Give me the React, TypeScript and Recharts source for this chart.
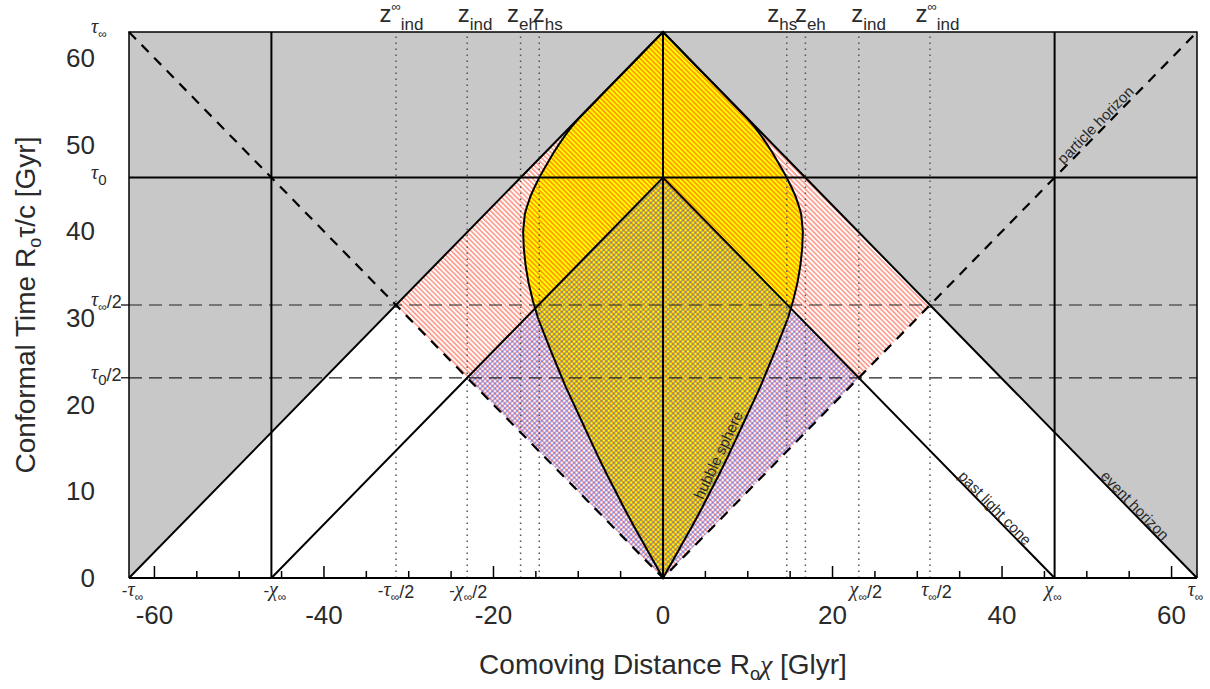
import React from 'react';
import { ComposedChart, Scatter, XAxis, YAxis } from 'recharts';

// landmarks of the conformal diagram (Gyr / Glyr)
const TAU_INF = 63;
const TAU_0 = 46.2;
const CHI_INF = 46.2;
const CHI_HS = 14.6;
const CHI_EH = TAU_INF - TAU_0;

// hubble sphere (conformal time -> comoving radius)
const hubbleTau = [0, 2, 4, 6, 8, 10, 12, 14, 16, 18, 20, 22, 24, 26, 28, 30, 32, 34, 36, 38, 40, 42, 43, 44, 45, 46.2, 47, 48, 49, 50, 51, 52, 53, 54, 56, 58, 60, 62, 63];
const hubbleChi = [0, 1.15, 2.3, 3.45, 4.55, 5.6, 6.65, 7.65, 8.6, 9.55, 10.5, 11.45, 12.3, 13.15, 13.95, 14.75, 15.35, 15.85, 16.2, 16.42, 16.5, 16.3, 16.0, 15.65, 15.2, 14.6, 14.15, 13.55, 12.95, 12.3, 11.6, 10.85, 9.95, 8.98, 6.98, 4.98, 2.99, 1.0, 0];

const xNumberTicks = [-60, -40, -20, 0, 20, 40, 60];
const xMinorTicks = [-55, -50, -45, -35, -30, -25, -15, -10, -5, 5, 10, 15, 25, 30, 35, 45, 50, 55];
const yNumberTicks = [0, 10, 20, 30, 40, 50, 60];

const xSymbolValues = [-TAU_INF, -CHI_INF, -TAU_INF / 2, -CHI_INF / 2, CHI_INF / 2, TAU_INF / 2, CHI_INF, TAU_INF];
const xSymbolNames = ['-τ∞', '-χ∞', '-τ∞/2', '-χ∞/2', 'χ∞/2', 'τ∞/2', 'χ∞', 'τ∞'];
const ySymbolValues = [TAU_INF, TAU_0, TAU_INF / 2, TAU_0 / 2];
const ySymbolNames = ['τ∞', 'τ0', 'τ∞/2', 'τ0/2'];

const zMarkX = [-TAU_INF / 2, -TAU_0 / 2, -CHI_EH, -CHI_HS, CHI_HS, CHI_EH, TAU_0 / 2, TAU_INF / 2];
const zMarkSub = ['ind', 'ind', 'eh', 'hs', 'hs', 'eh', 'ind', 'ind'];
const zMarkInf = [true, false, false, false, false, false, false, true];

const noteText = ['hubble sphere', 'past light cone', 'event horizon', 'particle horizon'];
const noteX = [6.5, 39.2, 55.7, 51.0];
const noteY = [14.2, 8.1, 8.4, 52.3];

// layout only
const xSymbolShift = [3.5, 3.5, 0, 1, 7, 6.5, -1.5, -1.5];
const zMarkShift = [-16.5, -9.5, -13.5, -6.5, -19.5, -10.5, -7.5, -14.5];
const noteAngle = [-64.8, 45.6, 45.6, -45.6];

const SANS = '"Liberation Sans", Arial, Helvetica, sans-serif';
const SERIF = '"Liberation Serif", "DejaVu Serif", serif';
const INK = '#2a2a2a';
const GRAY = '#c8c8c8';

type Pt = { x: number; y: number };
const P = (x: number, y: number): Pt => ({ x, y });

const T = TAU_INF;
const lensPts: Pt[] = [
  ...hubbleTau.map((t, i) => P(hubbleChi[i], t)),
  ...hubbleTau.map((t, i) => P(-hubbleChi[i], t)).reverse(),
];

interface Style {
  fill?: string;
  stroke?: string;
  width?: number;
  dash?: string;
  closed?: boolean;
}

const pathLine = (s: Style) => (props: any) => {
  const pts: Pt[] = props.points || [];
  if (!pts.length) return <g />;
  const d =
    pts.map((p, i) => `${i ? 'L' : 'M'}${p.x.toFixed(2)},${p.y.toFixed(2)}`).join('') + (s.closed ? 'Z' : '');
  return (
    <path
      d={d}
      fill={s.fill || 'none'}
      stroke={s.stroke || 'none'}
      strokeWidth={s.width || 1}
      strokeDasharray={s.dash}
    />
  );
};

const noMarker = () => <g />;

const shape = (key: string, data: Pt[], s: Style) => (
  <Scatter
    key={key}
    data={data}
    line={pathLine(s)}
    shape={noMarker}
    isAnimationActive={false}
    legendType="none"
  />
);

const SymLabel = ({ x, y, name, anchor }: { x: number; y: number; name: string; anchor: 'start' | 'middle' | 'end' }) => {
  const neg = name[0] === '-';
  const rest = neg ? name.slice(1) : name;
  const sub = rest[1];
  const half = rest.endsWith('/2');
  return (
    <text x={x} y={y} textAnchor={anchor} fill={INK}>
      {neg && <tspan fontFamily={SANS} fontSize={17}>-</tspan>}
      <tspan fontFamily={SERIF} fontStyle="italic" fontSize={20}>{rest[0]}</tspan>
      <tspan fontFamily={SANS} fontSize={sub === '∞' ? 12 : 15} dy={sub === '∞' ? 5 : 6}>{sub}</tspan>
      {half && <tspan fontFamily={SANS} fontSize={18} dy={sub === '∞' ? -3 : -4}>/2</tspan>}
    </text>
  );
};

const XTick = (props: any) => {
  const { x, y, payload } = props;
  const v = payload.value;
  const si = xSymbolValues.findIndex((s) => Math.abs(s - v) < 1e-9);
  if (si >= 0) {
    return <SymLabel x={x + xSymbolShift[si]} y={y + 18} name={xSymbolNames[si]} anchor="middle" />;
  }
  const major = xNumberTicks.includes(v);
  return (
    <g>
      <line x1={x} x2={x} y1={y} y2={y - (major ? 12 : 7)} stroke="#000" strokeWidth={1.5} />
      {major && (
        <text x={x} y={y + 46} textAnchor="middle" fontSize={26} fontFamily={SANS} fill={INK}>
          {v}
        </text>
      )}
      {v === 0 && (
        <text x={x} y={y + 96} textAnchor="middle" fontSize={28} fontFamily={SANS} fill={INK}>
          Comoving Distance R
          <tspan fontSize={18} dy={6}>o</tspan>
          <tspan fontFamily={SERIF} fontStyle="italic" dy={-6}>χ</tspan> [Glyr]
        </text>
      )}
    </g>
  );
};

const YTick = (props: any) => {
  const { x, y, payload } = props;
  const v = payload.value;
  const si = ySymbolValues.findIndex((s) => Math.abs(s - v) < 1e-9);
  if (si >= 0) {
    return (
      <g>
        {ySymbolNames[si].endsWith('/2') && (
          <line x1={x - 8} x2={x} y1={y} y2={y} stroke="#000" strokeWidth={1.2} />
        )}
        <SymLabel x={x - 38} y={y + 1} name={ySymbolNames[si]} anchor="start" />
        {si === 2 && (
          <text
            x={35}
            y={y}
            transform={`rotate(-90 35 ${y})`}
            textAnchor="middle"
            fontSize={28}
            fontFamily={SANS}
            fill={INK}
          >
            Conformal Time R
            <tspan fontSize={18} dy={6}>o</tspan>
            <tspan dy={-6}>τ/c [Gyr]</tspan>
          </text>
        )}
      </g>
    );
  }
  return (
    <text x={x - 34} y={y + 9} textAnchor="end" fontSize={26} fontFamily={SANS} fill={INK}>
      {v}
    </text>
  );
};

const ZMark = (props: any) => {
  const { cx, cy, payload } = props;
  const i = zMarkX.findIndex((v) => Math.abs(v - payload.x) < 1e-9);
  const inf = zMarkInf[i];
  return (
    <text x={cx + zMarkShift[i]} y={cy - 10} fill={INK} fontFamily={SANS}>
      <tspan fontSize={24}>z</tspan>
      {inf && <tspan fontSize={13} dy={-11}>∞</tspan>}
      <tspan fontSize={17} dy={inf ? 19 : 8}>{zMarkSub[i]}</tspan>
    </text>
  );
};

const Note = (props: any) => {
  const { cx, cy, payload } = props;
  const i = noteText.indexOf(payload.text);
  return (
    <text
      x={cx}
      y={cy}
      transform={`rotate(${noteAngle[i]} ${cx} ${cy})`}
      textAnchor="middle"
      dominantBaseline="central"
      fontSize={15}
      fontFamily={SANS}
      fill={INK}
    >
      {payload.text}
    </text>
  );
};

export default function App() {
  const zData = zMarkX.map((x) => P(x, T));
  const noteData = noteText.map((text, i) => ({ x: noteX[i], y: noteY[i], text }));

  return (
    <div style={{ position: 'absolute', left: 0, top: 0 }}>
      <ComposedChart width={1210} height={689} margin={{ top: 32, right: 13, bottom: 0, left: 0 }}>
        <defs>
          <pattern id="hatchRed" patternUnits="userSpaceOnUse" width={3.5} height={3.5} patternTransform="rotate(-45)">
            <line x1={1.75} y1={-1} x2={1.75} y2={4.5} stroke="#ff2000" strokeWidth={0.75} />
          </pattern>
          <pattern id="hatchBlue" patternUnits="userSpaceOnUse" width={3.5} height={3.5} patternTransform="rotate(45)">
            <line x1={1.75} y1={-1} x2={1.75} y2={4.5} stroke="#2450ff" strokeWidth={0.75} />
          </pattern>
        </defs>
        <XAxis
          type="number"
          dataKey="x"
          domain={[-T, T]}
          ticks={[...xNumberTicks, ...xMinorTicks, ...xSymbolValues]}
          interval={0}
          tick={XTick}
          tickLine={false}
          axisLine={false}
          tickSize={0}
          tickMargin={0}
          height={111}
        />
        <YAxis
          type="number"
          dataKey="y"
          domain={[0, T]}
          ticks={[...yNumberTicks, ...ySymbolValues]}
          interval={0}
          tick={YTick}
          tickLine={false}
          axisLine={false}
          tickSize={0}
          tickMargin={0}
          width={129}
        />

        {shape('grayL', [P(-T, 0), P(-T, T), P(0, T)], { fill: GRAY, closed: true })}
        {shape('grayR', [P(T, 0), P(T, T), P(0, T)], { fill: GRAY, closed: true })}
        {shape('lens', lensPts, { fill: '#ffff00', closed: true })}
        {shape('red', [P(0, 0), P(-T / 2, T / 2), P(0, T), P(T / 2, T / 2)], { fill: 'url(#hatchRed)', closed: true })}
        {shape('blue', [P(0, 0), P(-TAU_0 / 2, TAU_0 / 2), P(0, TAU_0), P(TAU_0 / 2, TAU_0 / 2)], {
          fill: 'url(#hatchBlue)',
          closed: true,
        })}
        {shape('lensEdge', lensPts, { stroke: '#000', width: 2, closed: true })}

        {zMarkX.map((x, i) => shape(`dot${i}`, [P(x, 0), P(x, T)], { stroke: '#555', width: 1.5, dash: '1.5 4.5' }))}
        {shape('halfInf', [P(-T, T / 2), P(T, T / 2)], { stroke: '#222', width: 1.2, dash: '13 7' })}
        {shape('half0', [P(-T, TAU_0 / 2), P(T, TAU_0 / 2)], { stroke: '#222', width: 1.2, dash: '13 7' })}

        {shape('axis0', [P(0, 0), P(0, T)], { stroke: '#000', width: 2 })}
        {shape('chiL', [P(-CHI_INF, 0), P(-CHI_INF, T)], { stroke: '#000', width: 2 })}
        {shape('chiR', [P(CHI_INF, 0), P(CHI_INF, T)], { stroke: '#000', width: 2 })}
        {shape('now', [P(-T, TAU_0), P(T, TAU_0)], { stroke: '#000', width: 2 })}
        {shape('eventH', [P(-T, 0), P(0, T), P(T, 0)], { stroke: '#000', width: 2 })}
        {shape('pastCone', [P(-TAU_0, 0), P(0, TAU_0), P(TAU_0, 0)], { stroke: '#000', width: 2 })}
        {shape('particleH', [P(-T, T), P(0, 0), P(T, T)], { stroke: '#000', width: 2.2, dash: '10 8' })}

        {shape('frame', [P(-T, 0), P(-T, T), P(T, T), P(T, 0)], { stroke: '#000', width: 1.5 })}
        {shape('bottom', [P(-T, 0), P(T, 0)], { stroke: '#000', width: 2 })}

        <Scatter data={noteData} shape={Note} isAnimationActive={false} legendType="none" />
        <Scatter data={zData} shape={ZMark} isAnimationActive={false} legendType="none" />
      </ComposedChart>
    </div>
  );
}
